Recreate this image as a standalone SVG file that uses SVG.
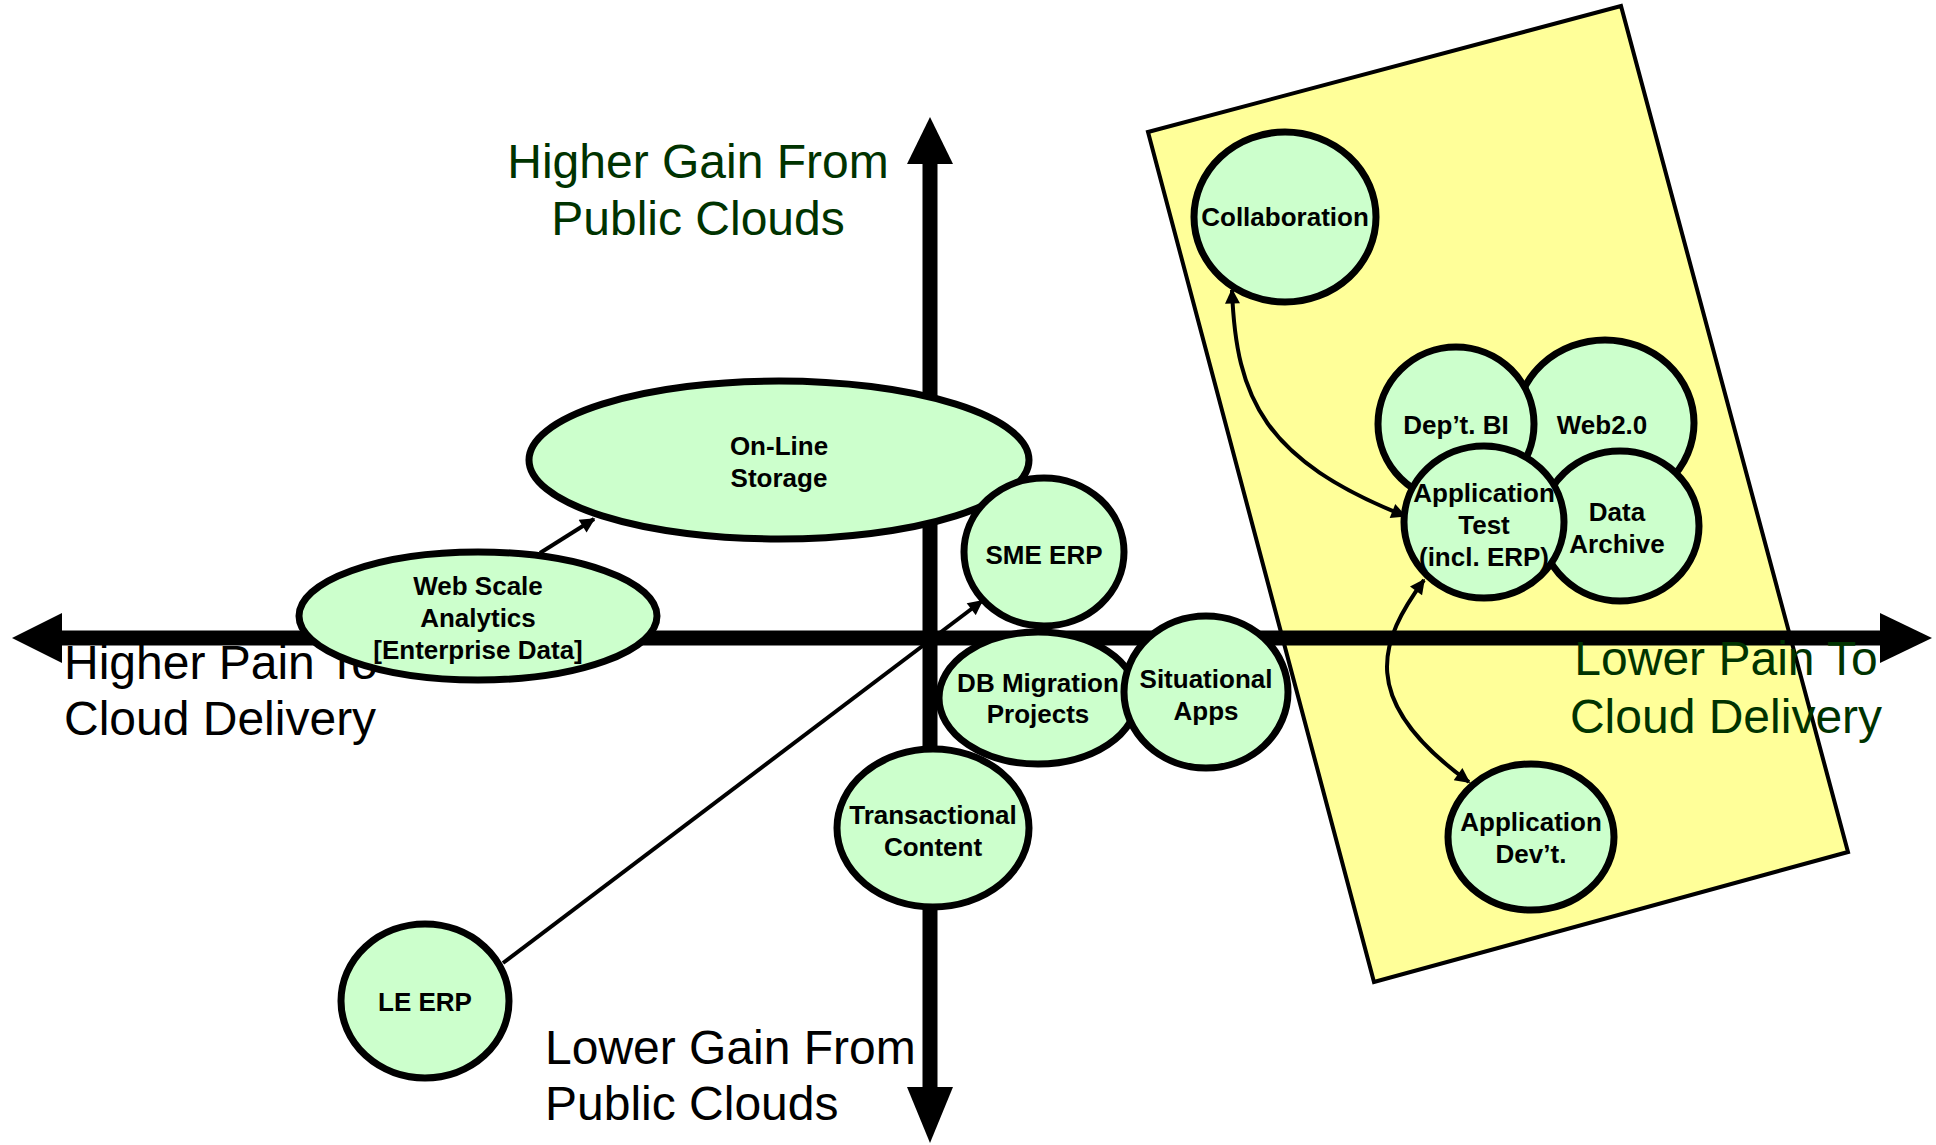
<svg xmlns="http://www.w3.org/2000/svg" width="1936" height="1145" viewBox="0 0 1936 1145">
<style>
.node ellipse{fill:#ccffcc;stroke:#000;stroke-width:7}
.node text{font-family:"Liberation Sans",Arial,sans-serif;font-weight:bold;font-size:26px;text-anchor:middle;fill:#000}
.axl{font-family:"Liberation Sans",Arial,sans-serif;font-size:48px}
.g{fill:#003300}
.k{fill:#000}
.conn{fill:none;stroke:#000;stroke-width:4}
</style>
<defs>
<marker id="ah2" viewBox="0 0 10 10" refX="9" refY="5" markerWidth="17" markerHeight="15" markerUnits="userSpaceOnUse" orient="auto-start-reverse">
<path d="M0,0 L10,5 L0,10 z" fill="#000"/>
</marker>
</defs>

<g id="region">
<polygon points="1148,132 1621,6 1848,852 1374,982" fill="#ffff99" stroke="#000" stroke-width="4"/>
</g>

<g id="axes">
<line x1="55" y1="638" x2="1885" y2="638" stroke="#000" stroke-width="15"/>
<polygon points="12,638 62,613 62,663" fill="#000"/>
<polygon points="1932,638 1880,613 1880,663" fill="#000"/>
<line x1="930" y1="155" x2="930" y2="1095" stroke="#000" stroke-width="15"/>
<polygon points="930,117 907,164 953,164" fill="#000"/>
<polygon points="930,1143 907,1087 953,1087" fill="#000"/>
</g>

<g id="axis-labels">
<text class="axl g" x="698" y="178" text-anchor="middle">Higher Gain From</text>
<text class="axl g" x="698" y="235" text-anchor="middle">Public Clouds</text>
<text class="axl k" x="64" y="679">Higher Pain To</text>
<text class="axl k" x="64" y="735">Cloud Delivery</text>
<text class="axl g" x="1726" y="675" text-anchor="middle">Lower Pain To</text>
<text class="axl g" x="1726" y="733" text-anchor="middle">Cloud Delivery</text>
<text class="axl k" x="545" y="1064">Lower Gain From</text>
<text class="axl k" x="545" y="1120">Public Clouds</text>
</g>

<g id="online-storage" class="node">
<ellipse cx="779" cy="460" rx="250" ry="79"/>
<text x="779" y="455">On-Line</text>
<text x="779" y="487">Storage</text>
</g>
<g id="web-scale-analytics" class="node">
<ellipse cx="478" cy="616" rx="179" ry="64"/>
<text x="478" y="595">Web Scale</text>
<text x="478" y="627">Analytics</text>
<text x="478" y="659">[Enterprise Data]</text>
</g>
<g id="sme-erp" class="node">
<ellipse cx="1044" cy="552" rx="80" ry="74"/>
<text x="1044" y="564">SME ERP</text>
</g>
<g id="db-migration" class="node">
<ellipse cx="1038" cy="698" rx="99" ry="66"/>
<text x="1038" y="692">DB Migration</text>
<text x="1038" y="723">Projects</text>
</g>
<g id="situational-apps" class="node">
<ellipse cx="1206" cy="692" rx="82" ry="76"/>
<text x="1206" y="688">Situational</text>
<text x="1206" y="720">Apps</text>
</g>
<g id="transactional-content" class="node">
<ellipse cx="933" cy="828" rx="96" ry="79"/>
<text x="933" y="824">Transactional</text>
<text x="933" y="856">Content</text>
</g>
<g id="le-erp" class="node">
<ellipse cx="425" cy="1001" rx="84" ry="77"/>
<text x="425" y="1011">LE ERP</text>
</g>
<g id="collaboration" class="node">
<ellipse cx="1285" cy="217" rx="91" ry="85"/>
<text x="1285" y="226">Collaboration</text>
</g>
<g id="web20" class="node">
<ellipse cx="1605" cy="423" rx="89" ry="83"/>
<text x="1602" y="434">Web2.0</text>
</g>
<g id="dept-bi" class="node">
<ellipse cx="1456" cy="424" rx="78" ry="77"/>
<text x="1456" y="434">Dep’t. BI</text>
</g>
<g id="data-archive" class="node">
<ellipse cx="1620" cy="526" rx="79" ry="75"/>
<text x="1617" y="521">Data</text>
<text x="1617" y="553">Archive</text>
</g>
<g id="application-test" class="node">
<ellipse cx="1484" cy="522" rx="80" ry="76"/>
<text x="1484" y="502">Application</text>
<text x="1484" y="534">Test</text>
<text x="1484" y="566">(incl. ERP)</text>
</g>
<g id="application-dev" class="node">
<ellipse cx="1531" cy="837" rx="83" ry="73"/>
<text x="1531" y="831">Application</text>
<text x="1531" y="863">Dev’t.</text>
</g>

<g id="connectors">
<line class="conn" x1="540" y1="553" x2="594" y2="519" marker-end="url(#ah2)"/>
<line class="conn" x1="503" y1="963" x2="982" y2="601" marker-end="url(#ah2)"/>
<path class="conn" d="M1232,290 C1236,400 1265,460 1405,516" marker-start="url(#ah2)" marker-end="url(#ah2)"/>
<path class="conn" d="M1424,580 C1380,640 1355,700 1469,782" marker-start="url(#ah2)" marker-end="url(#ah2)"/>
</g>
</svg>
